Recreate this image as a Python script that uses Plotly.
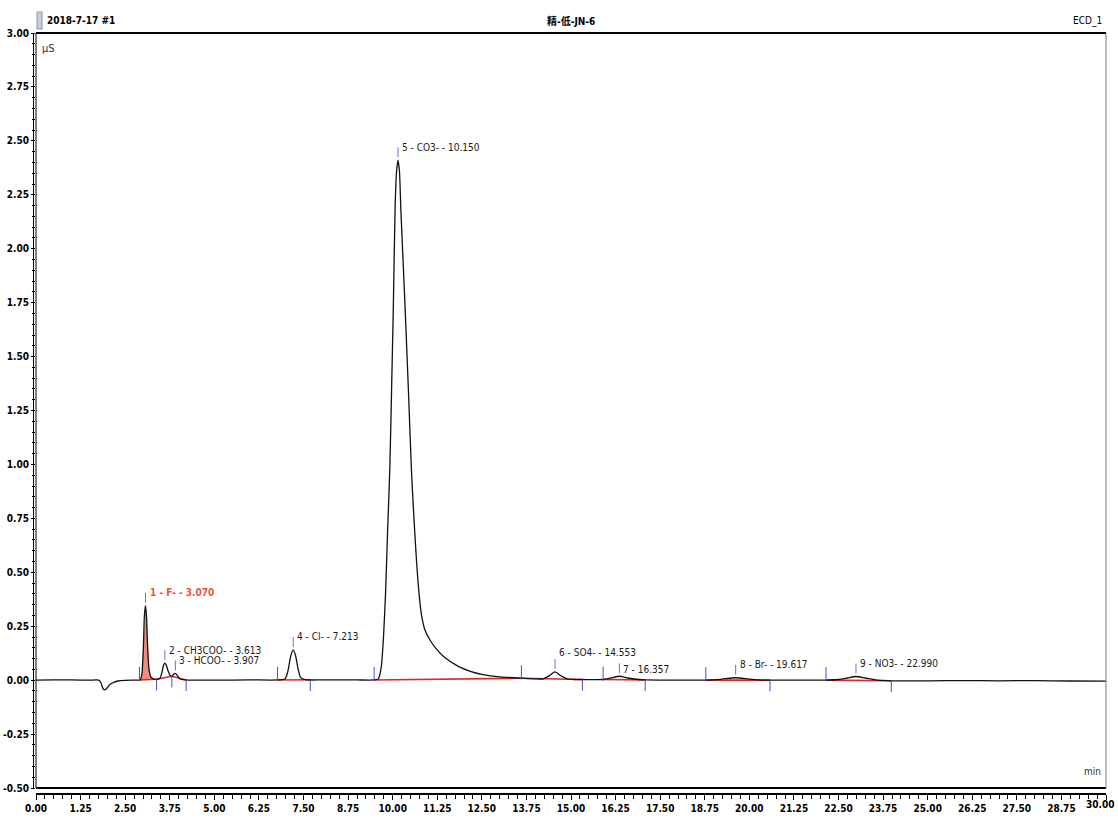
import numpy as np
import plotly.graph_objects as go

# ---------------- data ----------------
time_min = [0.00, 0.50, 1.00, 1.50, 1.76, 1.82, 1.88, 1.93, 2.00, 2.07, 2.18, 2.30, 2.50, 2.80,
            2.92, 2.97, 3.01, 3.04, 3.07, 3.10, 3.13, 3.17, 3.22, 3.30, 3.40,
            3.48, 3.53, 3.57, 3.61, 3.65, 3.70, 3.76, 3.81, 3.86, 3.905, 3.95, 4.02, 4.12, 4.30,
            5.00, 6.00, 6.80, 6.98, 7.06, 7.14, 7.21, 7.28, 7.35, 7.42, 7.55, 8.00, 9.00, 9.48,
            9.60, 9.68, 9.74, 9.80, 9.86, 9.92, 9.97, 10.02, 10.07, 10.11, 10.15, 10.19, 10.23,
            10.29, 10.345, 10.44, 10.53, 10.60, 10.67, 10.74, 10.81, 10.90, 11.05, 11.20, 11.42,
            11.84, 12.20, 12.53, 13.00, 13.57, 14.00, 14.22, 14.40, 14.55, 14.72, 14.90,
            15.10, 15.32, 15.90, 16.10, 16.357, 16.60, 16.90, 17.10, 18.00, 18.80, 19.20, 19.617,
            20.00, 20.40, 21.00, 22.15, 22.50, 22.75, 22.99, 23.25, 23.60, 24.00, 25.00, 26.00,
            27.00, 28.00, 29.00, 30.00]
signal_uS = [0.000, 0.001, 0.001, 0.000, 0.000, -0.012, -0.040, -0.045, -0.035, -0.020, -0.010, -0.004, -0.001, 0.000,
             0.001, 0.030, 0.150, 0.300, 0.345, 0.290, 0.150, 0.050, 0.015, 0.005, 0.004,
             0.010, 0.035, 0.066, 0.079, 0.070, 0.045, 0.022, 0.018, 0.027, 0.031, 0.024, 0.008, 0.002, 0.000,
             0.000, 0.001, 0.001, 0.005, 0.040, 0.110, 0.140, 0.112, 0.050, 0.012, 0.002, 0.001, 0.001, 0.001,
             0.006, 0.060, 0.190, 0.400, 0.700, 0.980, 1.350, 1.740, 2.200, 2.360, 2.410, 2.360, 2.180,
             1.950, 1.740, 1.350, 0.960, 0.740, 0.550, 0.400, 0.300, 0.235, 0.185, 0.150, 0.111,
             0.064, 0.040, 0.026, 0.015, 0.009, 0.006, 0.006, 0.022, 0.038, 0.020, 0.006,
             0.003, 0.003, 0.003, 0.009, 0.018, 0.010, 0.003, 0.001, 0.000, 0.000, 0.004, 0.011,
             0.005, 0.000, 0.000, 0.000, 0.003, 0.010, 0.017, 0.010, 0.000, -0.003, -0.003, -0.002,
             -0.003, -0.002, -0.004, -0.005]

peak_labels = ["1 - F- - 3.070", "2 - CH3COO- - 3.613", "3 - HCOO- - 3.907", "4 - Cl- - 7.213",
               "5 - CO3- - 10.150", "6 - SO4- - 14.553", "7 - 16.357", "8 - Br- - 19.617",
               "9 - NO3- - 22.990"]
peak_rt = [3.070, 3.613, 3.907, 7.213, 10.150, 14.553, 16.357, 19.617, 22.990]
peak_height = [0.345, 0.079, 0.031, 0.140, 2.410, 0.038, 0.018, 0.011, 0.017]
peak_start = [2.90, 3.38, 3.81, 6.77, 9.48, 13.61, 15.90, 18.78, 22.15]
peak_end = [3.38, 3.81, 4.21, 7.69, 13.61, 15.32, 17.08, 20.58, 23.98]

event_time = [2.90, 3.38, 3.81, 4.21, 6.77, 7.69, 9.48, 13.61, 15.32, 15.90, 17.08, 18.78,
              20.58, 22.15, 23.98]
event_kind = ["start", "end", "end", "end", "start", "end", "start", "start", "end", "start",
              "end", "start", "end", "start", "end"]

x_tick_values = [0.00, 1.25, 2.50, 3.75, 5.00, 6.25, 7.50, 8.75, 10.00, 11.25, 12.50, 13.75,
                 15.00, 16.25, 17.50, 18.75, 20.00, 21.25, 22.50, 23.75, 25.00, 26.25, 27.50,
                 28.75, 30.00]
x_tick_labels = ["0.00", "1.25", "2.50", "3.75", "5.00", "6.25", "7.50", "8.75", "10.00",
                 "11.25", "12.50", "13.75", "15.00", "16.25", "17.50", "18.75", "20.00",
                 "21.25", "22.50", "23.75", "25.00", "26.25", "27.50", "28.75", "30.00"]
y_tick_values = [-0.50, -0.25, 0.00, 0.25, 0.50, 0.75, 1.00, 1.25, 1.50, 1.75, 2.00, 2.25,
                 2.50, 2.75, 3.00]
y_tick_labels = ["-0.50", "-0.25", "0.00", "0.25", "0.50", "0.75", "1.00", "1.25", "1.50",
                 "1.75", "2.00", "2.25", "2.50", "2.75", "3.00"]

title_left = "2018-7-17 #1"
title_center = "精-低-JN-6"
title_right = "ECD_1"
y_unit = "µS"
x_unit = "min"

# ---------------- layout constants ----------------
W, H = 1118, 818
ML, MR, MT, MB = 36, 12, 33, 25
PLOT_W = W - ML - MR
PLOT_H = H - MT - MB
PX_PER_UNIT = (788 - 33) / 3.5
Y_TOP = 3.0
Y_BOT = Y_TOP - PLOT_H / PX_PER_UNIT

FONT = "Liberation Sans Narrow, Arial Narrow, DejaVu Sans Condensed, Noto Sans CJK SC, sans-serif"
MARK_BLUE = "#4a4ad0"
TICK_BLUE = "#6f6fd6"
RED = "#e42420"
FILL = "#f28a7e"
LABEL_SIZE = 10
# vertical offset (px) of each peak label above its apex; two crowded labels are nudged apart
LABEL_YSHIFT = {5: 19, 6: 7}


def px_x(px):
    return (px - ML) / PLOT_W


def px_y(py):
    return (H - MB - py) / PLOT_H


def yval_paper(v):
    return (v - Y_BOT) / (Y_TOP - Y_BOT)


t_arr = np.array(time_min)
s_arr = np.array(signal_uS)

fig = go.Figure()

# filled F peak (area between integration baseline and curve)
f_s, f_e = peak_start[0], peak_end[0]
mask = (t_arr >= f_s) & (t_arr <= f_e)
fx = [f_s] + list(t_arr[mask]) + [f_e]
fy = [np.interp(f_s, t_arr, s_arr)] + list(s_arr[mask]) + [np.interp(f_e, t_arr, s_arr)]
fig.add_trace(go.Scatter(x=fx + [f_s], y=fy + [fy[0]], fill="toself", fillcolor=FILL,
                         mode="lines", line=dict(width=0, color=FILL), hoverinfo="skip",
                         showlegend=False))

# integration baselines (red)
for s, e in zip(peak_start, peak_end):
    fig.add_trace(go.Scatter(x=[s, e], y=[np.interp(s, t_arr, s_arr), np.interp(e, t_arr, s_arr)],
                             mode="lines", line=dict(color=RED, width=1.6),
                             hoverinfo="skip", showlegend=False))

# chromatogram
fig.add_trace(go.Scatter(x=time_min, y=signal_uS, mode="lines",
                         line=dict(color="#111111", width=1.3, shape="spline", smoothing=0.6),
                         showlegend=False))

shapes = []
# peak delimiters
for t, kind in zip(event_time, event_kind):
    b = float(np.interp(t, t_arr, s_arr))
    if kind == "start":
        y0, y1 = b - 0.005, b + 0.06
    else:
        y0, y1 = b, b - 0.052
    shapes.append(dict(type="line", xref="x", yref="y", x0=t, x1=t, y0=y0, y1=y1,
                       line=dict(color=MARK_BLUE, width=1)))
# apex ticks
for rt, h in zip(peak_rt, peak_height):
    shapes.append(dict(type="line", xref="x", yref="y", x0=rt, x1=rt, y0=h + 0.014, y1=h + 0.06,
                       line=dict(color=TICK_BLUE, width=1)))

# frame
yb = yval_paper(-0.5)
shapes += [
    dict(type="line", xref="paper", yref="paper", x0=0, x1=1, y0=1, y1=1,
         line=dict(color="black", width=2)),
    dict(type="line", xref="paper", yref="paper", x0=0, x1=1, y0=yb, y1=yb,
         line=dict(color="black", width=2)),
    dict(type="line", xref="paper", yref="paper", x0=1, x1=1, y0=yb, y1=1,
         line=dict(color="#7a7a7a", width=1)),
    dict(type="line", xref="paper", yref="paper", x0=0, x1=0, y0=yb, y1=1,
         line=dict(color="black", width=1)),
    dict(type="line", xref="paper", yref="paper", x0=px_x(33.5), x1=px_x(33.5), y0=yb, y1=1,
         line=dict(color="black", width=1)),
    # small report icon near the header
    dict(type="rect", xref="paper", yref="paper", x0=px_x(37), x1=px_x(42), y0=px_y(29), y1=px_y(12),
         line=dict(color="#8a93a6", width=1), fillcolor="#c9d0dc"),
]

annotations = []
for i, (lab, rt, h) in enumerate(zip(peak_labels, peak_rt, peak_height)):
    first = i == 0
    annotations.append(dict(x=rt, y=h, xref="x", yref="y", text=lab, showarrow=False,
                            xanchor="left", yanchor="middle", xshift=2,
                            yshift=LABEL_YSHIFT.get(i, 13),
                            font=dict(family=FONT, size=LABEL_SIZE,
                                      color="#f0513f" if first else "#1a1a1a",
                                      weight="bold" if first else "normal")))

annotations += [
    dict(x=px_x(45), y=px_y(21), xref="paper", yref="paper", text=title_left, showarrow=False,
         xanchor="left", yanchor="middle", font=dict(family=FONT, size=10, color="black", weight="bold")),
    dict(x=px_x(571), y=px_y(21), xref="paper", yref="paper", text=title_center, showarrow=False,
         xanchor="center", yanchor="middle", font=dict(family=FONT, size=10, color="black", weight="bold")),
    dict(x=px_x(1104), y=px_y(21), xref="paper", yref="paper", text=title_right, showarrow=False,
         xanchor="right", yanchor="middle", font=dict(family=FONT, size=10, color="black")),
    dict(x=px_x(40), y=px_y(48), xref="paper", yref="paper", text=y_unit, showarrow=False,
         xanchor="left", yanchor="middle", font=dict(family=FONT, size=11, color="#333333")),
    dict(x=px_x(1103), y=px_y(771), xref="paper", yref="paper", text=x_unit, showarrow=False,
         xanchor="right", yanchor="middle", font=dict(family=FONT, size=10, color="#333333")),
    # last x tick label sits flush with the right edge, as in the original report
    dict(x=px_x(1116), y=px_y(804), xref="paper", yref="paper", text=x_tick_labels[-1],
         showarrow=False, xanchor="right", yanchor="middle",
         font=dict(family=FONT, size=10, color="black", weight="bold")),
]

fig.update_layout(
    width=W, height=H,
    margin=dict(l=ML, r=MR, t=MT, b=MB, pad=0, autoexpand=False),
    paper_bgcolor="white", plot_bgcolor="white",
    showlegend=False,
    shapes=shapes,
    annotations=annotations,
    xaxis=dict(range=[0, 30], showgrid=False, zeroline=False, automargin=False,
               showline=True, linecolor="black", linewidth=1.5,
               tickmode="array", tickvals=x_tick_values,
               ticktext=x_tick_labels[:-1] + [""],
               ticks="outside", ticklen=5, tickcolor="black", tickwidth=1,
               tickfont=dict(family=FONT, size=10, color="black", weight="bold"),
               minor=dict(dtick=0.25, tick0=0, ticks="outside", ticklen=4, tickcolor="black",
                          showgrid=False)),
    yaxis=dict(range=[Y_BOT, Y_TOP], showgrid=False, zeroline=False, showline=False,
               automargin=False,
               tickmode="array", tickvals=y_tick_values, ticktext=y_tick_labels,
               ticks="outside", ticklen=4, tickcolor="black", tickwidth=1,
               tickfont=dict(family=FONT, size=10, color="black", weight="bold"),
               minor=dict(dtick=0.05, tick0=0, ticks="outside", ticklen=3, tickcolor="black",
                          showgrid=False)),
)

fig.write_html("out.html")
